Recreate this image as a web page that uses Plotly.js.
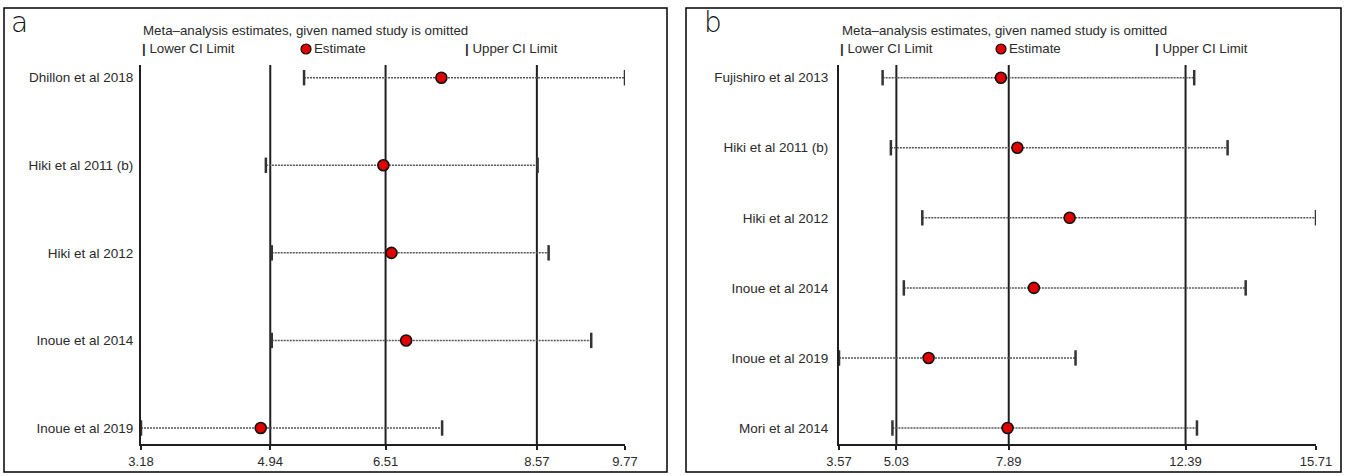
<!DOCTYPE html>
<html>
<head>
<meta charset="utf-8">
<script src="https://cdn.plot.ly/plotly-3.0.1.min.js"></script>
<style>html,body{margin:0;padding:0;background:#fff;}#chart{width:1346px;height:476px;}</style>
</head>
<body>
<div id="chart"></div>
<script>
// ---- Panel a data ----
const studiesA = ['Dhillon et al 2018', 'Hiki et al 2011 (b)', 'Hiki et al 2012', 'Inoue et al 2014', 'Inoue et al 2019'];
const lowerA = [5.40, 4.88, 4.96, 4.96, 3.18];
const estA   = [7.27, 6.48, 6.59, 6.79, 4.81];
const upperA = [9.77, 8.58, 8.73, 9.31, 7.28];
const ticksA = [3.18, 4.94, 6.51, 8.57, 9.77];
const refLinesA = [4.94, 6.51, 8.57];

// ---- Panel b data ----
const studiesB = ['Fujishiro et al 2013', 'Hiki et al 2011 (b)', 'Hiki et al 2012', 'Inoue et al 2014', 'Inoue et al 2019', 'Mori et al 2014'];
const lowerB = [4.68, 4.89, 5.69, 5.22, 3.57, 4.93];
const estB   = [7.69, 8.11, 9.44, 8.53, 5.85, 7.86];
const upperB = [12.61, 13.46, 15.71, 13.92, 9.59, 12.68];
const ticksB = [3.57, 5.03, 7.89, 12.39, 15.71];
const refLinesB = [5.03, 7.89, 12.39];

const legendTitle = 'Meta\u2013analysis estimates, given named study is omitted';
const legendLower = 'Lower CI Limit';
const legendEst = 'Estimate';
const legendUpper = 'Upper CI Limit';

const W = 1346, H = 476;
const px = x => x / W;
const py = y => 1 - y / H;
const FONT = 'Liberation Sans, Arial, sans-serif';
const DARK = '#1f1f1f';
const TXT = '#2a2a2a';
const AXIS_Y = 444, TOP_Y = 65, ROW0 = 77.7, ROWN = 428;

function panelTraces(lo, est, hi, xa, ya) {
  const lx = [], ly = [];
  lo.forEach((v, i) => { lx.push(v, hi[i], null); ly.push(i, i, null); });
  const idx = lo.map((_, i) => i);
  return [
    {type: 'scatter', mode: 'lines', x: lx, y: ly, xaxis: xa, yaxis: ya,
     line: {color: '#555', width: 1.5, dash: '2px,1px'}, hoverinfo: 'skip'},
    {type: 'scatter', mode: 'markers', x: lo.concat(hi), y: idx.concat(idx), xaxis: xa, yaxis: ya,
     marker: {symbol: 'line-ns', size: 11, line: {width: 2.5, color: '#333'}}, hoverinfo: 'skip'},
    {type: 'scatter', mode: 'markers', x: est, y: idx, xaxis: xa, yaxis: ya,
     marker: {symbol: 'circle', size: 11, color: '#e10000', line: {width: 1.6, color: '#111'}}, hoverinfo: 'skip'}
  ];
}

const data = [].concat(
  panelTraces(lowerA, estA, upperA, 'x', 'y'),
  panelTraces(lowerB, estB, upperB, 'x2', 'y2')
);

function xAxis(ticks, domain, anchor) {
  return {
    domain: domain, anchor: anchor, range: [ticks[0], ticks[ticks.length - 1]],
    tickmode: 'array', tickvals: ticks, ticktext: ticks.map(t => t.toFixed(2)),
    showgrid: false, zeroline: false, showline: true, linecolor: DARK, linewidth: 2,
    ticks: 'outside', ticklen: 4, tickwidth: 2, tickcolor: DARK,
    tickfont: {family: FONT, size: 13, color: TXT}, fixedrange: true
  };
}
function yAxis(names, anchor, standoff) {
  const n = names.length;
  const step = (ROWN - ROW0) / (n - 1);
  return {
    domain: [py(AXIS_Y), py(TOP_Y)], anchor: anchor,
    range: [n - 1 + (AXIS_Y - ROWN) / step, -(ROW0 - TOP_Y) / step],
    tickmode: 'array', tickvals: names.map((_, i) => i), ticktext: names,
    showgrid: false, zeroline: false, showline: true, linecolor: DARK, linewidth: 2,
    ticks: '', ticklabelstandoff: standoff,
    tickfont: {family: FONT, size: 13.5, color: TXT}, fixedrange: true
  };
}

const shapes = [];
refLinesA.forEach(v => shapes.push({type: 'line', xref: 'x', yref: 'y domain', x0: v, x1: v, y0: 0, y1: 1, layer: 'below', line: {color: DARK, width: 2}}));
refLinesB.forEach(v => shapes.push({type: 'line', xref: 'x2', yref: 'y2 domain', x0: v, x1: v, y0: 0, y1: 1, layer: 'below', line: {color: DARK, width: 2}}));
// panel borders
shapes.push({type: 'rect', xref: 'paper', yref: 'paper', x0: px(4), x1: px(667), y0: py(472), y1: py(8), line: {color: '#000', width: 1.5}});
shapes.push({type: 'rect', xref: 'paper', yref: 'paper', x0: px(686), x1: px(1341), y0: py(472), y1: py(8), line: {color: '#000', width: 1.5}});
// legend estimate circles
[306, 1001].forEach(cx => shapes.push({type: 'circle', xref: 'paper', yref: 'paper', xsizemode: 'pixel', ysizemode: 'pixel',
  xanchor: px(cx), yanchor: py(49), x0: -5, x1: 5, y0: -5, y1: 5, fillcolor: '#e10000', line: {color: '#111', width: 1.2}}));

const annotations = [];
function ann(text, x, y, size, opts) {
  annotations.push(Object.assign({text: text, xref: 'paper', yref: 'paper', x: px(x), y: py(y), xanchor: 'left', yanchor: 'middle',
    showarrow: false, font: {family: FONT, size: size, color: TXT}}, opts || {}));
}
ann('a', 9, 22, 30, {font: {family: 'DejaVu Sans, ' + FONT, size: 28, color: '#111', weight: 300}});
ann('b', 702, 22, 30, {font: {family: 'DejaVu Sans, ' + FONT, size: 28, color: '#111', weight: 300}});
ann(legendTitle, 141, 30, 13.3);
ann(legendTitle, 840, 30, 13.3);
ann('<b>|</b> ' + legendLower, 140, 49, 13.3);
ann(legendEst, 312, 49, 13.3);
ann('<b>|</b> ' + legendUpper, 463, 49, 13.3);
ann('<b>|</b> ' + legendLower, 838, 49, 13.3);
ann(legendEst, 1007, 49, 13.3);
ann('<b>|</b> ' + legendUpper, 1153, 49, 13.3);

const layout = {
  width: W, height: H, margin: {l: 0, r: 0, t: 0, b: 0},
  paper_bgcolor: '#fff', plot_bgcolor: '#fff', showlegend: false, hovermode: false,
  xaxis: xAxis(ticksA, [px(141), px(625)], 'y'),
  yaxis: yAxis(studiesA, 'x', 3),
  xaxis2: xAxis(ticksB, [px(839), px(1316)], 'y2'),
  yaxis2: yAxis(studiesB, 'x2', 6),
  shapes: shapes, annotations: annotations
};

Plotly.newPlot('chart', data, layout, {displayModeBar: false, staticPlot: true});
</script>
</body>
</html>
